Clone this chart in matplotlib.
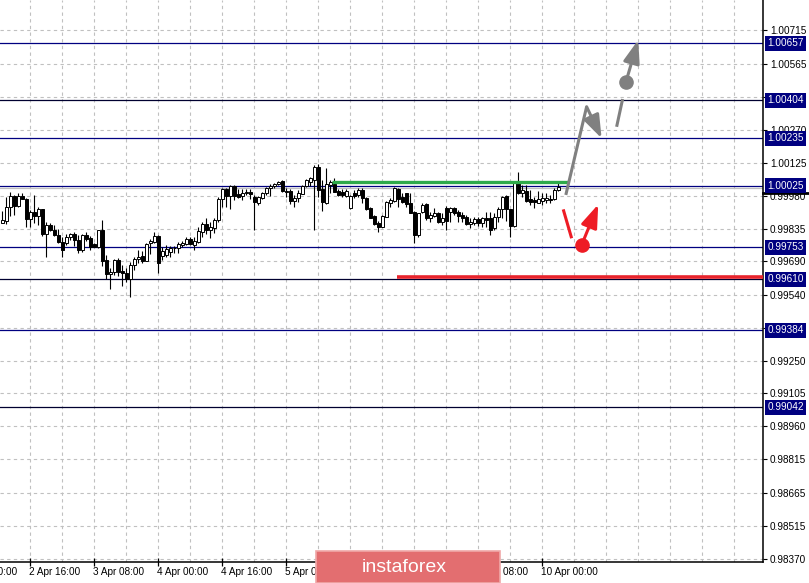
import numpy as np
import matplotlib.pyplot as plt
from matplotlib.transforms import blended_transform_factory

plt.rcParams['font.family'] = ['Liberation Sans', 'DejaVu Sans']

# H1 candles, prices in points (1 point = 0.00001)
open_pts = [99861, 99870, 99932, 99979, 99935, 99979, 99968, 99879, 99907, 99892,
            99920, 99812, 99849, 99830, 99808, 99775, 99772, 99799, 99811, 99784,
            99740, 99805, 99792, 99766, 99755, 99829, 99696, 99632, 99641, 99696,
            99647, 99637, 99613, 99672, 99700, 99713, 99693, 99770, 99777, 99802,
            99715, 99718, 99730, 99747, 99747, 99762, 99766, 99789, 99762, 99777,
            99821, 99855, 99829, 99836, 99873, 99965, 100009, 99979, 100024, 99987,
            99979, 99994, 99997, 99975, 99947, 99969, 99991, 100013, 100024, 100033,
            100046, 100003, 100001, 99958, 99972, 99988, 100023, 100043, 100050, 100109,
            100009, 99950, 100028, 100031, 100003, 99998, 99981, 99924, 99991, 99984,
            100006, 99969, 99924, 99890, 99861, 99843, 99887, 99950, 99958, 100009,
            99976, 99991, 99947, 99910, 99806, 99910, 99942, 99883, 99892, 99905,
            99865, 99924, 99910, 99924, 99910, 99895, 99887, 99855, 99861, 99877,
            99858, 99880, 99880, 99836, 99887, 99920, 99979, 99920, 99846, 100035,
            99991, 100003, 99964, 99961, 99950, 99958, 99961, 99964, 99964, 100006]
high_pts = [99913, 99973, 99997, 99984, 99991, 99991, 99972, 99917, 99984, 99932,
            99923, 99866, 99858, 99851, 99832, 99799, 99811, 99817, 99821, 99806,
            99811, 99820, 99802, 99772, 99829, 99873, 99718, 99659, 99702, 99703,
            99672, 99662, 99688, 99710, 99740, 99737, 99770, 99787, 99821, 99805,
            99752, 99762, 99758, 99758, 99777, 99781, 99796, 99796, 99796, 99843,
            99866, 99880, 99866, 99880, 99973, 100013, 100013, 100028, 100028, 100009,
            100009, 100012, 100012, 99984, 99979, 99996, 100018, 100033, 100039, 100047,
            100050, 100013, 100009, 99984, 100006, 100028, 100054, 100065, 100117, 100119,
            100050, 100102, 100050, 100060, 100009, 100009, 100010, 99984, 100006, 100013,
            100013, 99973, 99929, 99893, 99868, 99895, 99958, 99969, 100017, 100013,
            99991, 99994, 99994, 99913, 99905, 99950, 99947, 99910, 99924, 99910,
            99902, 99935, 99932, 99929, 99917, 99910, 99895, 99880, 99887, 99887,
            99887, 99910, 99910, 99902, 99932, 99979, 99982, 99923, 100043, 100087,
            100028, 100028, 100006, 99976, 100003, 99994, 99994, 99984, 100013, 100038]
low_pts = [99858, 99854, 99892, 99895, 99932, 99965, 99843, 99843, 99858, 99851,
           99802, 99710, 99823, 99804, 99772, 99710, 99762, 99784, 99759, 99725,
           99732, 99781, 99740, 99752, 99747, 99669, 99611, 99566, 99629, 99625,
           99580, 99597, 99533, 99651, 99681, 99681, 99691, 99722, 99772, 99637,
           99696, 99710, 99710, 99728, 99725, 99755, 99762, 99762, 99740, 99770,
           99799, 99811, 99795, 99817, 99863, 99932, 99932, 99922, 99962, 99972,
           99962, 99985, 99965, 99829, 99940, 99965, 99984, 99979, 100013, 100027,
           99999, 99976, 99944, 99929, 99954, 99986, 100020, 100023, 99828, 99976,
           99913, 99944, 99991, 99997, 99981, 99976, 99976, 99921, 99969, 99976,
           99947, 99917, 99880, 99850, 99821, 99840, 99884, 99932, 99954, 99932,
           99947, 99932, 99902, 99769, 99799, 99902, 99873, 99865, 99887, 99861,
           99850, 99828, 99865, 99895, 99865, 99865, 99850, 99836, 99850, 99846,
           99843, 99843, 99806, 99828, 99865, 99880, 99870, 99796, 99843, 99988,
           99976, 99954, 99939, 99924, 99947, 99939, 99947, 99947, 99961, 100003]
close_pts = [99871, 99932, 99979, 99935, 99979, 99968, 99879, 99907, 99892, 99920,
             99812, 99849, 99827, 99806, 99775, 99740, 99799, 99811, 99784, 99740,
             99805, 99789, 99755, 99755, 99829, 99693, 99632, 99641, 99696, 99644,
             99639, 99613, 99672, 99699, 99710, 99693, 99765, 99780, 99802, 99684,
             99736, 99743, 99747, 99750, 99765, 99770, 99789, 99766, 99780, 99824,
             99855, 99829, 99843, 99873, 99965, 100009, 99979, 100024, 99979, 99976,
             99991, 99997, 99987, 99953, 99975, 99991, 100013, 100024, 100033, 100042,
             100003, 99995, 99958, 99972, 99991, 100023, 100050, 100059, 100109, 100006,
             99951, 100031, 100043, 99998, 99984, 99985, 100003, 99981, 99981, 100006,
             99969, 99920, 99883, 99855, 99840, 99890, 99954, 99961, 100013, 99964,
             99954, 99942, 99905, 99806, 99902, 99939, 99880, 99895, 99905, 99865,
             99880, 99870, 99924, 99905, 99892, 99883, 99855, 99865, 99877, 99858,
             99880, 99873, 99828, 99887, 99920, 99976, 99920, 99846, 100035, 99991,
             100006, 99958, 99952, 99954, 99964, 99969, 99969, 99963, 100006, 100020]

# horizontal levels with price boxes
level_prices = [1.00657, 1.00404, 1.00235, 1.00025, 0.99753, 0.99610, 0.99384, 0.99042]
level_colors = ['#000080', '#000030', '#000080', '#000080', '#000080', '#000030', '#000080', '#000030']
bid_price = 1.00016

# price scale
y_ticks = [1.00715, 1.00565, 1.00420, 1.00270, 1.00125, 0.99980, 0.99835, 0.99690,
           0.99540, 0.99395, 0.99250, 0.99105, 0.98960, 0.98815, 0.98665, 0.98515, 0.98370]

# time scale (bar number -> label)
date_bars = [-9, 7, 23, 39, 55, 71, 87, 103, 119, 135]
date_labels = ['2 Apr 00:00', '2 Apr 16:00', '3 Apr 08:00', '4 Apr 00:00', '4 Apr 16:00',
               '5 Apr 08:00', '8 Apr 00:00', '8 Apr 16:00', '9 Apr 08:00', '10 Apr 00:00']

# forecast drawings (bar number, price)
green_bars = [82.4, 141.4]
green_price = 1.00043
red_bars = [98.7, 200]
red_price = 0.99619
gray_path_x = [140.9, 146.1]
gray_path_y = [0.99984, 1.00375]
gray_head = (149.85, 1.00235)
gray_tail_x = [153.6, 155.1]
gray_tail_y = [1.00286, 1.00409]
gray_dot = (155.9, 1.00483)
gray_tip = (159.0, 1.00671)
red_tail_x = [140.25, 142.35]
red_tail_y = [0.99920, 0.99792]
red_dot = (144.85, 0.99762)
red_tip = (149.0, 0.99942)

o = np.array(open_pts) / 1e5
h = np.array(high_pts) / 1e5
l = np.array(low_pts) / 1e5
c = np.array(close_pts) / 1e5
x = np.arange(len(o))

fig = plt.figure(figsize=(8.09, 5.83), dpi=100)
ax = fig.add_axes([0, 21 / 583, 763 / 809, 562 / 583])
ax.set_xlim(-0.575, 190.2)
ax.set_ylim(0.98357, 1.00848)

# grid
for yt in y_ticks:
    ax.axhline(yt, color='#c0c0c0', lw=0.8, dashes=(3, 3), zorder=0)
for gx in range(7, 191, 8):
    ax.axvline(gx, color='#c0c0c0', lw=0.8, dashes=(3, 3), zorder=0)

# levels
for p, col in zip(level_prices, level_colors):
    ax.axhline(p, color=col, lw=0.9, zorder=1)
ax.axhline(bid_price, color='#c0c0c0', lw=0.9, zorder=1)

# candles
ax.vlines(x, l, h, color='black', lw=0.8, zorder=2)
up = c >= o
body_low = np.minimum(o, c)
body_h = np.maximum(np.abs(c - o), 0.00002)
ax.bar(x, body_h, bottom=body_low, width=0.74, color=np.where(up, 'white', 'black'),
       edgecolor='black', linewidth=0.7, zorder=3)

# green / red levels
ax.plot(green_bars, [green_price] * 2, color='#2eaa4a', lw=2.4, solid_capstyle='butt', zorder=4)
ax.plot(red_bars, [red_price] * 2, color='#e8242c', lw=2.6, solid_capstyle='butt', zorder=4)

# forecast arrows
gray = '#808080'
red = '#ee1c25'
head = '-|>,head_length=0.7,head_width=0.25'
ax.plot(gray_path_x, gray_path_y, color=gray, lw=2.2, solid_capstyle='butt', zorder=5)
ax.annotate('', xy=gray_head, xytext=(gray_path_x[-1], gray_path_y[-1]),
            arrowprops=dict(arrowstyle=head, color=gray, lw=2.2, mutation_scale=20,
                            shrinkA=0, shrinkB=0), zorder=5)
ax.plot(gray_tail_x, gray_tail_y, color=gray, lw=2.2, solid_capstyle='butt', zorder=5)
ax.annotate('', xy=gray_tip, xytext=gray_dot,
            arrowprops=dict(arrowstyle=head, color=gray, lw=2.2, mutation_scale=20,
                            shrinkA=0, shrinkB=0), zorder=5)
ax.plot(*gray_dot, 'o', color=gray, ms=9.5, zorder=6)
ax.plot(red_tail_x, red_tail_y, color=red, lw=2.2, solid_capstyle='butt', zorder=5)
ax.annotate('', xy=red_tip, xytext=red_dot,
            arrowprops=dict(arrowstyle=head, color=red, lw=2.2, mutation_scale=20,
                            shrinkA=0, shrinkB=0), zorder=5)
ax.plot(*red_dot, 'o', color=red, ms=9.5, zorder=6)

# axes styling
for s in ['left', 'top']:
    ax.spines[s].set_visible(False)
for s in ['right', 'bottom']:
    ax.spines[s].set_color('black')
    ax.spines[s].set_linewidth(1.1)
ax.yaxis.tick_right()
ax.set_yticks(y_ticks)
ax.set_yticklabels(['%.5f' % t for t in y_ticks])
ax.tick_params(axis='y', direction='out', length=3, pad=2, labelsize=7.2, colors='black')
in_view = [b for b in date_bars if b >= 0]
ax.set_xticks(in_view)
ax.set_xticklabels([])
ax.tick_params(axis='x', direction='inout', length=6, width=0.9)

tb = blended_transform_factory(ax.transData, ax.transAxes)
for b, lab in zip(date_bars, date_labels):
    ax.text(b - 0.2, -0.018, lab, transform=tb, ha='left', va='center', fontsize=7.2,
            clip_on=False)

# level price boxes
tr = blended_transform_factory(ax.transAxes, ax.transData)
ax.plot([1.0, 1.06], [0.99992] * 2, transform=tr, color='black', lw=2, clip_on=False, zorder=7)
for p in level_prices:
    ax.text(1.0055, p, '%.5f' % p, transform=tr, ha='left', va='center', fontsize=7.2,
            color='white', clip_on=False, zorder=8,
            bbox=dict(boxstyle='square,pad=0.25', fc='#000080', ec='none'))

# logo
logo = plt.Rectangle((316 / 809, 0), 184 / 809, 32 / 583, transform=fig.transFigure,
                     fc='#e36e70', ec='#f0a8a8', lw=1.2, zorder=10)
fig.patches.append(logo)
fig.text(404 / 809, 15 / 583, 'instaforex', color='white', fontsize=14, ha='center',
         va='center', zorder=11)

fig.savefig('out.png', dpi=100)
